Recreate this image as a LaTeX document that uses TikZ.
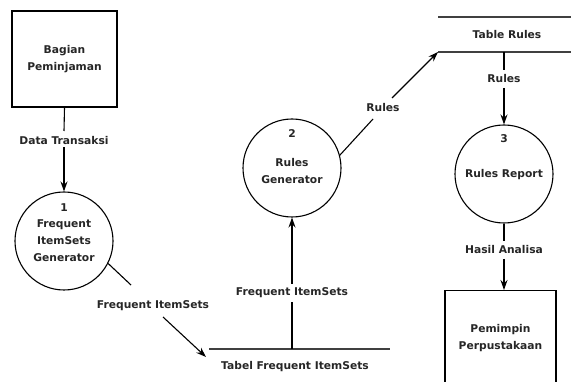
\documentclass[tikz,border=0pt]{standalone}
\usepackage{fontspec}
\setmainfont{DejaVu Sans}
\usetikzlibrary{arrows.meta}
\tikzset{
  txt/.style={font=\fontsize{10.7}{17}\selectfont\bfseries, text=black!85, inner sep=1pt, align=center},
  lbl/.style={txt, fill=white, inner sep=2pt},
  entity/.style={draw, line width=1.3pt, minimum width=105pt, minimum height=96pt, inner sep=0pt},
  proc/.style={draw, circle, line width=1.1pt, minimum size=98pt, inner sep=0pt},
  flow/.style={line width=1.1pt, -{Stealth[length=10pt,width=7pt]}},
  plain/.style={line width=1.1pt},
  store/.style={line width=1.8pt, draw=black!75}
}
\begin{document}
\begin{tikzpicture}[x=1pt,y=-1pt]
\useasboundingbox (0,0) rectangle (571,382);
\clip (0,0) rectangle (571,382);
% external entity 1
\node[entity, txt] (b1) at (64.5,59) {Bagian\\Peminjaman};
% process 1
\node[proc] (p1) at (64,241) {};
\node[txt] (p1n) at (64,208) {1};
\node[txt] (p1t) at (64,241) {Frequent\\ItemSets\\Generator};
% data flow 1
\draw[plain] (b1.south) -- (64,131);
\node[lbl] (l1) at (64,141) {Data Transaksi};
\draw[flow] (l1.south) -- (p1.north);
% data store Tabel Frequent ItemSets
\coordinate (ts1) at (209,349);
\coordinate (ts2) at (390,349);
\coordinate (tsv) at (292,349);
\draw[store] (ts1) -- (ts2);
\node[txt] (tst) at (295,367) {Tabel Frequent ItemSets};
% flow p1 -> store
\coordinate (tsin) at (206,357);
\draw[plain] (p1.-27) -- (131,285);
\node[lbl] (l2) at (153,306) {Frequent ItemSets};
\draw[flow] (163,317) -- (tsin);
% process 2
\node[proc] (p2) at (292,168) {};
\node[txt] (p2n) at (292,134) {2};
\node[txt] (p2t) at (292,171) {Rules\\Generator};
% flow store -> p2
\draw[plain] (tsv) -- (292,302);
\node[lbl] (l3) at (292,293) {Frequent ItemSets};
\draw[flow] (292,284) -- (p2.south);
% data store Table Rules
\coordinate (tr1) at (438,17);
\coordinate (tr2) at (575,17);
\coordinate (tr3) at (438,52);
\coordinate (tr4) at (575,52);
\coordinate (trv) at (504,52);
\draw[store] (tr1) -- (tr2);
\draw[store] (tr3) -- (tr4);
\node[txt] (trt) at (507,35) {Table Rules};
% flow p2 -> Table Rules
\draw[plain] (p2.15) -- (373,119);
\node[lbl] (l4) at (383,108) {Rules};
\draw[flow] (392,98) -- (tr3);
% process 3
\node[proc] (p3) at (504,174) {};
\node[txt] (p3n) at (504,139) {3};
\node[txt] (p3t) at (504,175) {Rules Report};
% flow Table Rules -> p3
\draw[plain] (trv) -- (504,70);
\node[lbl] (l5) at (504,79) {Rules};
\draw[flow] (504,88) -- (p3.north);
% external entity 2
\node[entity, minimum width=111pt, minimum height=120pt, anchor=north] (b2) at (500.5,290) {};
\node[txt] (b2t) at (500.5,338.5) {Pemimpin\\Perpustakaan};
% flow p3 -> entity 2
\draw[plain] (p3.south) -- (504,241);
\node[lbl] (l6) at (504,250) {Hasil Analisa};
\draw[flow] (504,259) -- (b2.north -| p3.south);
\end{tikzpicture}
\end{document}
